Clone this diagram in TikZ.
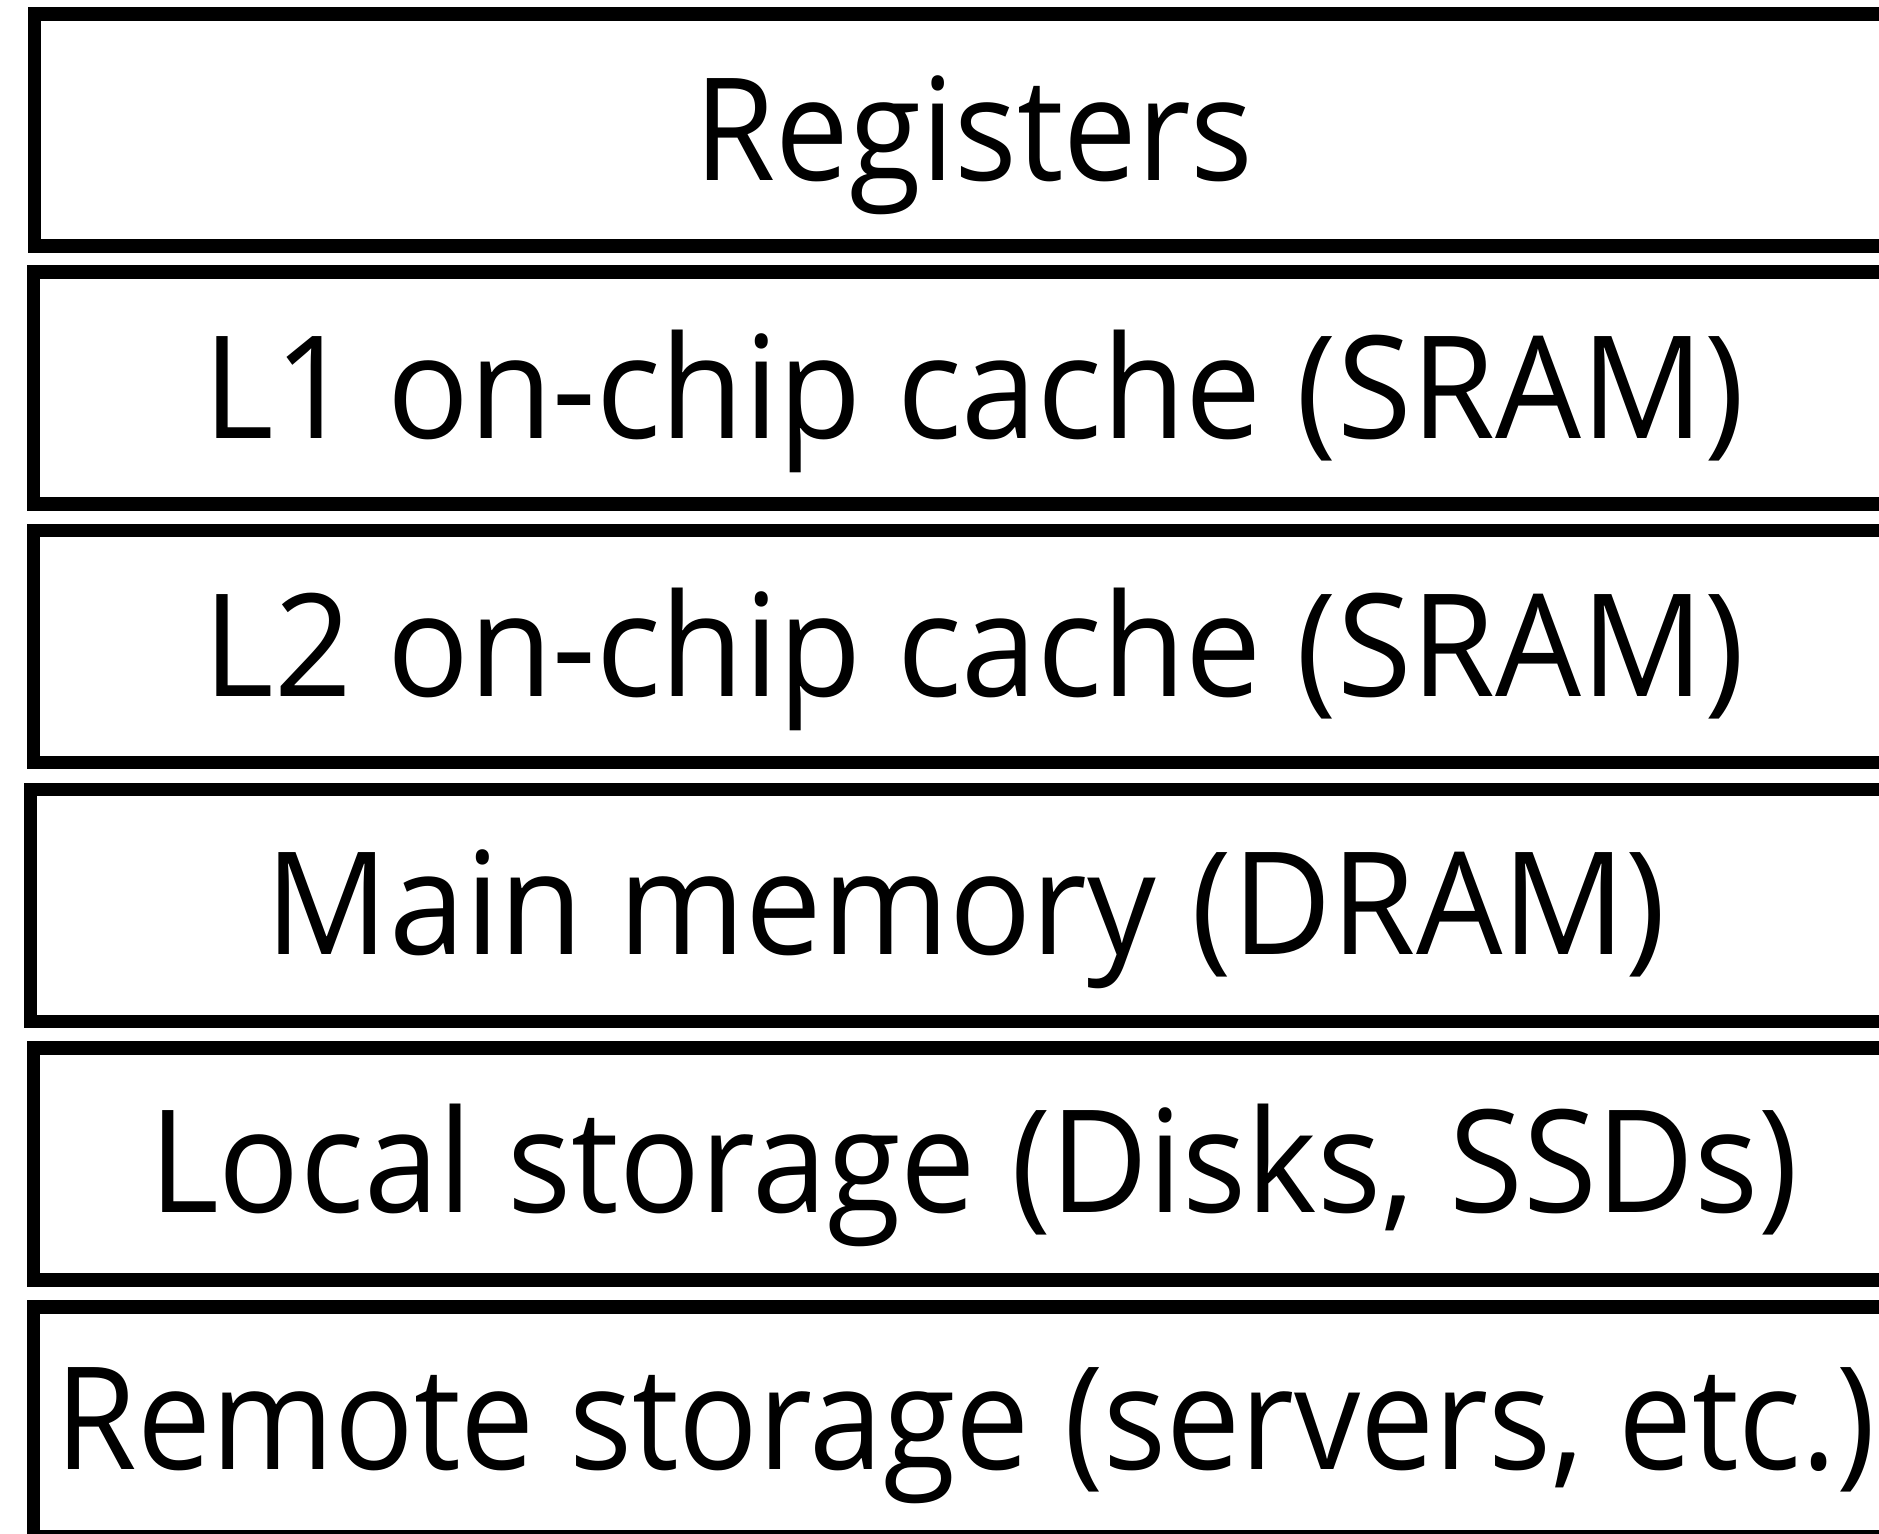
\documentclass[tikz,border=0pt]{standalone}
\usepackage{fontspec}
\setmainfont{Open Sans}
\newcommand{\narrowtext}[2]{\scalebox{#1}[1]{#2}}
\begin{document}
\begin{tikzpicture}[x=0.5pt,y=-0.5pt,
  levelbox/.style={draw=black,line width=6.65pt,inner sep=0pt,outer sep=0pt,
    minimum height=116pt},
  leveltext/.style={inner sep=0pt,outer sep=0pt,anchor=base,
    font=\fontsize{71.4pt}{80pt}\selectfont}]
\useasboundingbox (0,0) rectangle (1879,1533);
\clip (0,0) rectangle (1879,1533);
\node[levelbox,minimum width=939.15pt] (b1) at (973.85,130) {};
\node[levelbox,minimum width=939.85pt] (b2) at (973.15,388) {};
\node[levelbox,minimum width=939.85pt] (b3) at (973.15,646.5) {};
\node[levelbox,minimum width=941.15pt] (b4) at (971.85,905.2) {};
\node[levelbox,minimum width=939.85pt] (b5) at (973.15,1164) {};
\node[levelbox,minimum width=939.85pt,minimum height=115pt] (b6) at (973.15,1422) {};
\node[leveltext] (t1) at (974,180) {\narrowtext{0.92}{Registers}};
\node[leveltext] (t2) at (974,438) {\narrowtext{0.951}{L1 on-chip cache (SRAM)}};
\node[leveltext] (t3) at (974,696) {\narrowtext{0.951}{L2 on-chip cache (SRAM)}};
\node[leveltext] (t4) at (966,954) {\narrowtext{0.956}{Main memory (DRAM)}};
\node[leveltext] (t5) at (974,1212) {\narrowtext{0.941}{Local storage (Disks, SSDs)}};
\node[leveltext] (t6) at (966,1469) {\narrowtext{0.925}{Remote storage (servers, etc.)}};
\end{tikzpicture}
\end{document}
